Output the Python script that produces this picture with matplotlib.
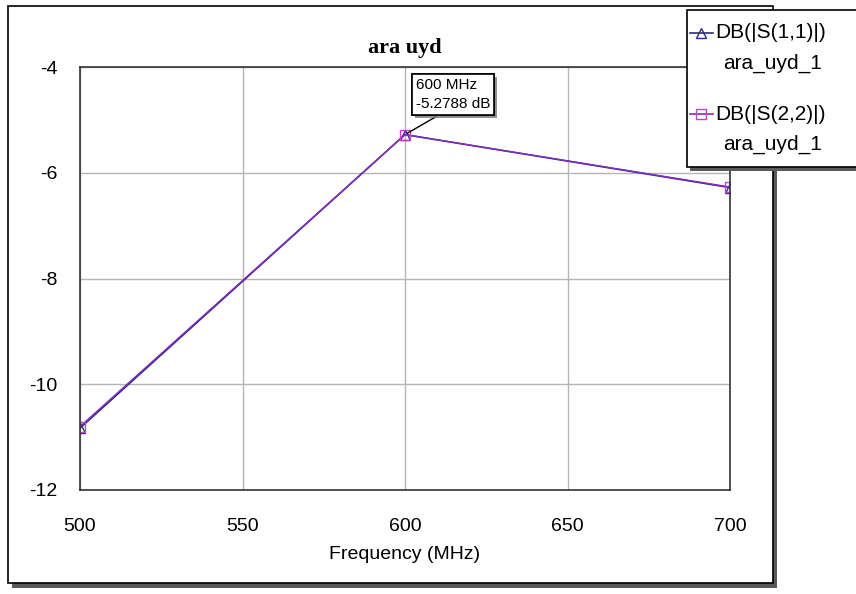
import numpy as np
import matplotlib.pyplot as plt
import matplotlib.patheffects as pe
from matplotlib.patches import Rectangle
from matplotlib.lines import Line2D

# frequency sweep points (MHz) and return loss traces (dB)
freq = [500, 600, 700]
s11 = [-10.83, -5.2788, -6.28]
s22 = [-10.80, -5.2788, -6.27]
series_names = ['DB(|S(1,1)|)', 'DB(|S(2,2)|)']
doc_name = 'ara_uyd_1'
xticks = [500, 550, 600, 650, 700]
yticks = [-12, -10, -8, -6, -4]

W, H = 856, 594
plt.rcParams['font.family'] = ['Liberation Sans', 'DejaVu Sans']
plt.rcParams['axes.unicode_minus'] = False
fig = plt.figure(figsize=(W / 100, H / 100), dpi=100)

def fx(px):
    return px / W

def fy(py):
    return 1 - py / H

# outer frame with drop shadow
fig.patches.append(Rectangle((fx(12), fy(588)), fx(765), (583 - 6) / H, transform=fig.transFigure,
                             facecolor='#5a5a5a', edgecolor='none', zorder=0))
fig.patches.append(Rectangle((fx(8), fy(583)), fx(765), (583 - 6) / H, transform=fig.transFigure,
                             facecolor='white', edgecolor='black', lw=1.2, zorder=1))

ax = fig.add_axes([fx(80), fy(490), fx(650), (490 - 67) / H])
ax.set_zorder(2)
ax.plot(freq, s11, color='#2b2b80', lw=1.2, marker='^', ms=7, mfc='none', mec='#2b2b80', mew=1)
ax.plot(freq, s22, color='#8a2bc0', lw=1.0, marker='s', ms=7, mfc='none', mec='#c040d0', mew=1)
ax.set_xlim(500, 700)
ax.set_ylim(-12, -4)
ax.set_xticks(xticks)
ax.set_yticks(yticks)
ax.grid(True, color='#b5b5b5', lw=1)
ax.tick_params(length=0, labelsize=14)
ax.tick_params(axis='y', pad=16)
ax.tick_params(axis='x', pad=20)
for s in ax.spines.values():
    s.set_color('#333333')
    s.set_linewidth(1.2)
    s.set_clip_on(False)
ax.set_xlabel('Frequency (MHz)', fontsize=14, labelpad=8)
ax.set_title('ara uyd', fontfamily='Liberation Serif', fontweight='bold', fontsize=16, pad=10)

# marker readout
ann = ax.annotate('600 MHz\n-5.2788 dB', xy=(freq[1], s11[1]), xytext=(fx(416), fy(111)),
                  textcoords='figure fraction', fontsize=11, va='bottom', ha='left', linespacing=1.45,
                  bbox=dict(boxstyle='square,pad=0.25', fc='white', ec='black', lw=1.2),
                  arrowprops=dict(arrowstyle='-', color='black', lw=1, relpos=(0.4, 0)))
ann.get_bbox_patch().set_path_effects([pe.withSimplePatchShadow(offset=(2, -2), shadow_rgbFace='#777777', alpha=0.8),
                                       pe.Normal()])

# legend box, partly off the right edge
fig.patches.append(Rectangle((fx(690), fy(171)), fx(200), (167 - 10) / H, transform=fig.transFigure,
                             facecolor='#5a5a5a', edgecolor='none', zorder=5))
fig.patches.append(Rectangle((fx(687), fy(167)), fx(200), (167 - 10) / H, transform=fig.transFigure,
                             facecolor='white', edgecolor='black', lw=1.2, zorder=6))
styles = [('#2b2b80', '^', '#2b2b80'), ('#8a2bc0', 's', '#c040d0')]
for i, name in enumerate(series_names):
    y0 = 33 + i * 81
    c, m, mc = styles[i]
    fig.add_artist(Line2D([fx(690), fx(713)], [fy(y0), fy(y0)], color=c, lw=1.2, zorder=7))
    fig.add_artist(Line2D([fx(701)], [fy(y0)], marker=m, ms=7, mfc='none', mec=mc, mew=1, zorder=8))
    fig.text(fx(715), fy(y0), name, fontsize=15, va='center', ha='left', zorder=8)
    fig.text(fx(723), fy(y0 + 30), doc_name, fontsize=15, va='center', ha='left', zorder=8)

fig.savefig('out.png', dpi=100)
